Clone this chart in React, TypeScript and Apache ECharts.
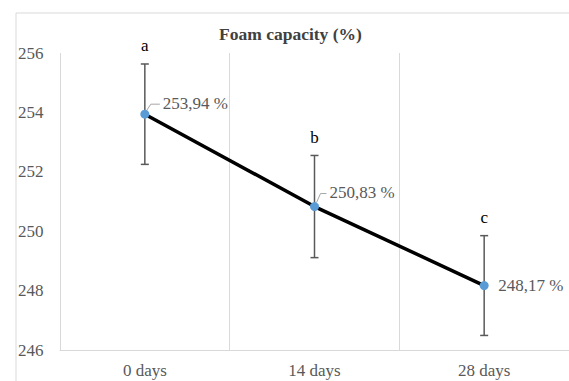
import React, { useEffect, useRef } from "react";
import * as echarts from "echarts";

const categories = ["0 days", "14 days", "28 days"];
const values = [253.94, 250.83, 248.17];
const errors = [1.69, 1.72, 1.68];
const letters = ["a", "b", "c"];
const yMin = 246;
const yMax = 256;
const yStep = 2;

const labelOffsets = [
  [18, -11],
  [15, -14],
  [14, 0],
];

const FONT = "Liberation Serif, serif";

export default function App() {
  const ref = useRef<HTMLDivElement>(null);
  useEffect(() => {
    if (!ref.current) return;
    const chart = echarts.init(ref.current, null, { renderer: "svg" });
    const option: any = {
      animation: false,
      backgroundColor: "#ffffff",
      title: {
        text: "Foam capacity (%)",
        left: 214,
        top: 20,
        textStyle: { fontFamily: FONT, fontSize: 17.5, fontWeight: "bold", color: "#404040" },
      },
      graphic: [
        {
          type: "rect",
          shape: { x: 16, y: 13, width: 620, height: 420 },
          style: { fill: "none", stroke: "#d9d9d9", lineWidth: 1 },
          silent: true,
          z: -1,
        },
      ],
      grid: { left: 60, right: -1, top: 53, bottom: 31 },
      xAxis: {
        type: "category",
        data: categories,
        boundaryGap: true,
        axisLine: { show: true, lineStyle: { color: "#d9d9d9", width: 1 } },
        axisTick: { show: false },
        splitLine: { show: true, lineStyle: { color: "#d9d9d9", width: 1 } },
        axisLabel: { fontFamily: FONT, fontSize: 17, color: "#595959", margin: 12 },
      },
      yAxis: {
        type: "value",
        min: yMin,
        max: yMax,
        interval: yStep,
        axisLine: { show: false },
        axisTick: { show: false },
        splitLine: { show: false },
        axisLabel: {
          fontFamily: FONT,
          fontSize: 17,
          color: "#595959",
          align: "left",
          margin: 42,
        },
      },
      series: [
        {
          type: "custom",
          clip: false,
          z: 1,
          data: values.map((v, i) => [i, v, errors[i]]),
          renderItem: (params: any, api: any) => {
            const idx = params.dataIndex;
            const x = api.value(0);
            const v = api.value(1);
            const e = api.value(2);
            const top = api.coord([x, v + e]);
            const bot = api.coord([x, v - e]);
            const pt = api.coord([x, v]);
            const barStyle = { stroke: "#595959", lineWidth: 1.5 };
            const off = labelOffsets[idx];
            const children: any[] = [
              { type: "line", shape: { x1: top[0], y1: top[1], x2: bot[0], y2: bot[1] }, style: barStyle },
              { type: "line", shape: { x1: top[0] - 4, y1: top[1], x2: top[0] + 4, y2: top[1] }, style: barStyle },
              { type: "line", shape: { x1: bot[0] - 4, y1: bot[1], x2: bot[0] + 4, y2: bot[1] }, style: barStyle },
              {
                type: "text",
                x: top[0],
                y: top[1] - 18,
                style: {
                  text: letters[idx],
                  fontFamily: FONT,
                  fontSize: 17,
                  fill: "#000000",
                  align: "center",
                  verticalAlign: "middle",
                },
              },
              {
                type: "text",
                x: pt[0] + off[0],
                y: pt[1] + off[1],
                style: {
                  text: v.toFixed(2).replace(".", ",") + " %",
                  fontFamily: FONT,
                  fontSize: 17,
                  fill: "#595959",
                  align: "left",
                  verticalAlign: "middle",
                },
              },
            ];
            if (off[1] !== 0) {
              children.push({
                type: "polyline",
                shape: {
                  points: [
                    [pt[0] + 2, pt[1] - 4],
                    [pt[0] + 6, pt[1] + off[1] + 1],
                    [pt[0] + off[0] - 3, pt[1] + off[1] + 1],
                  ],
                },
                style: { stroke: "#a6a6a6", lineWidth: 1, fill: "none" },
              });
            }
            return { type: "group", children };
          },
        },
        {
          type: "line",
          z: 3,
          data: values,
          symbol: "circle",
          symbolSize: 9,
          lineStyle: { color: "#000000", width: 3.5 },
          itemStyle: { color: "#5B9BD5" },
          label: { show: false },
        },
      ],
    };
    chart.setOption(option);
    return () => chart.dispose();
  }, []);
  return (
    <div
      ref={ref}
      style={{ position: "fixed", left: 0, top: 0, width: 569, height: 381 }}
    />
  );
}
